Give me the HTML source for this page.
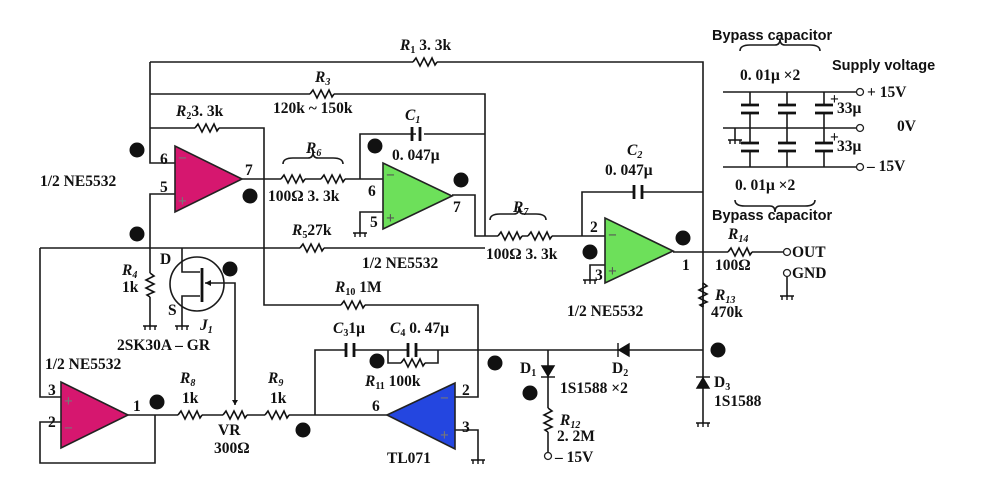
<!DOCTYPE html>
<html><head><meta charset="utf-8"><style>
html,body{margin:0;padding:0;background:#fff;width:981px;height:501px;overflow:hidden}
svg{display:block}
text{font-family:"Liberation Serif",serif;font-weight:bold;font-size:15.5px;fill:#111}
.s{font-family:"Liberation Sans",sans-serif;font-size:14.5px}
.i{font-style:italic}
</style></head><body>
<svg width="981" height="501" viewBox="0 0 981 501" xmlns="http://www.w3.org/2000/svg">
<defs>
<path id="rh" d="M-12 0 L-9 -4 L-5 4 L-1 -4 L3 4 L7 -4 L10 3 L12 0" fill="none" stroke="#111" stroke-width="1.6"/>
<path id="rv" d="M0 -12 L4 -9 L-4 -5 L4 -1 L-4 3 L4 7 L-3 10 L0 12" fill="none" stroke="#111" stroke-width="1.6"/>
<g id="gnd"><path d="M-7 0 H7 M-5 0 V4 M0 0 V4 M5 0 V4" stroke="#111" stroke-width="1.4"/></g>
</defs>
<g stroke="#1a1a1a" stroke-width="1.6" fill="none">
<path d="M150 62 H413 M437 62 H703 V423"/>
<path d="M150 62 V163 H175"/>
<path d="M150 94 H310 M334 94 H485 V236"/>
<path d="M150 128 H195 M219 128 H264 V305 H341 M365 305 H478 V397 H455"/>
<path d="M242 179 H264 M264 179 H281 M305 179 H321 M345 179 H383"/>
<path d="M360 179 V134 H416 M424 134 H485"/>
<path d="M383 212 H360 V233"/>
<path d="M452 195 H475 V236 H498 M522 236 H528 M552 236 H605"/>
<path d="M582 236 V192 H634 M642 192 H703"/>
<path d="M605 265 H590 V280"/>
<path d="M673 252 H728 M752 252 H783"/>
<path d="M787 276 V296"/>
<path d="M175 194 H150 V248"/>
<path d="M40 248 H300 M324 248 H485"/>
<path d="M150 248 V273 M150 297 V326"/>
<path d="M40 248 V397 H61"/>
<path d="M61 422 H40 V463 H155 V415"/>
<path d="M128 415 H178 M202 415 H223 M247 415 H265 M289 415 H387"/>
<path d="M315 415 V350 H346 M354 350 H408 M416 350 H703"/>
<path d="M388 350 V363 H401 M425 363 H438 V350"/>
<path d="M455 430 H478 V460"/>
<path d="M548 350 V408 M548 432 V452"/>
<path d="M703 283 V307"/>
<circle cx="197" cy="284" r="27"/>
<path d="M182 248 V272 H200 M182 326 V296 H200 M205 283 H235 V405"/>
<path d="M723 92 H856 M723 128 H856 M723 167 H856 M735 128 V140"/>
<path d="M750 92 V105 M750 113 V143 M750 151 V167 M787 92 V105 M787 113 V143 M787 151 V167 M824 92 V105 M824 113 V143 M824 151 V167"/>
<path d="M283 164 Q283 158 293 158 H308 Q313 158 313 152 Q313 158 318 158 H333 Q343 158 343 164"/>
<path d="M490 220 Q490 214 500 214 H514 Q519 214 519 208 Q519 214 524 214 H536 Q546 214 546 220"/>
<path d="M740 51 Q740 45 750 45 H775 Q780 45 780 39 Q780 45 785 45 H810 Q820 45 820 51"/>
<path d="M735 200 Q735 206 745 206 H770 Q775 206 775 212 Q775 206 780 206 H805 Q815 206 815 200"/>
</g>
<g stroke="#111" stroke-width="2.8">
<path d="M412 127 V141 M420 127 V141"/>
<path d="M634 185 V199 M642 185 V199"/>
<path d="M346 343 V357 M354 343 V357"/>
<path d="M408 343 V357 M416 343 V357"/>
<path d="M741 105 H759 M741 113 H759 M778 105 H796 M778 113 H796 M815 105 H833 M815 113 H833"/>
<path d="M741 143 H759 M741 151 H759 M778 143 H796 M778 151 H796 M815 143 H833 M815 151 H833"/>
<path d="M202 268 V302"/>
</g>
<use href="#rh" x="425" y="62"/><use href="#rh" x="322" y="94"/><use href="#rh" x="207" y="128"/>
<use href="#rh" x="293" y="179"/><use href="#rh" x="333" y="179"/><use href="#rh" x="312" y="248"/>
<use href="#rh" x="510" y="236"/><use href="#rh" x="540" y="236"/><use href="#rh" x="740" y="252"/>
<use href="#rh" x="353" y="305"/><use href="#rh" x="413" y="363"/>
<use href="#rh" x="190" y="415"/><use href="#rh" x="235" y="415"/><use href="#rh" x="277" y="415"/>
<use href="#rv" x="150" y="285"/><use href="#rv" x="703" y="295"/><use href="#rv" x="548" y="420"/>
<path d="M235 405 l-3 -5 h6z" fill="#111"/>
<path d="M205 283 l6 -3 v6z" fill="#111"/>
<use href="#gnd" x="150" y="326"/><use href="#gnd" x="182" y="326"/><use href="#gnd" x="360" y="233"/>
<use href="#gnd" x="590" y="280"/><use href="#gnd" x="787" y="296"/><use href="#gnd" x="478" y="460"/>
<use href="#gnd" x="703" y="423"/><use href="#gnd" x="735" y="140"/>
<g fill="#111" stroke="#111" stroke-width="1.4">
<path d="M619 350 l10 -6 v12z"/><path d="M618 343 V357"/>
<path d="M548 376 l-6 -10 h12z"/><path d="M541 377 H555"/>
<path d="M703 378 l-6 10 h12z"/><path d="M696 377 H710"/>
</g>
<g fill="#fff" stroke="#222" stroke-width="1.3">
<circle cx="787" cy="252" r="3.5"/><circle cx="787" cy="273" r="3.5"/><circle cx="548" cy="456" r="3.5"/>
<circle cx="860" cy="92" r="3.5"/><circle cx="860" cy="128" r="3.5"/><circle cx="860" cy="167" r="3.5"/>
</g>
<g stroke="#222" stroke-width="1.6">
<polygon points="175,146 175,212 242,179" fill="#d6176f"/>
<polygon points="383,163 383,229 452,196" fill="#6de05a"/>
<polygon points="605,218 605,283 673,251" fill="#6de05a"/>
<polygon points="61,382 61,448 128,415" fill="#d6176f"/>
<polygon points="387,415 455,383 455,449" fill="#2446e0"/>
</g>
<g font-size="14">
<text x="178" y="163" style="fill:#777">−</text><text x="178" y="206" style="fill:#777">+</text>
<text x="386" y="180" style="fill:#555">−</text><text x="386" y="223" style="fill:#555">+</text>
<text x="608" y="240" style="fill:#555">−</text><text x="608" y="276" style="fill:#555">+</text>
<text x="64" y="406" style="fill:#777">+</text><text x="64" y="433" style="fill:#777">−</text>
<text x="440" y="403" style="fill:#777">−</text><text x="440" y="440" style="fill:#777">+</text>
</g>
<g fill="#111">
<circle cx="137" cy="150" r="7.5"/><circle cx="137" cy="234" r="7.5"/><circle cx="250" cy="196" r="7.5"/>
<circle cx="375" cy="146" r="7.5"/><circle cx="461" cy="180" r="7.5"/><circle cx="683" cy="238" r="7.5"/>
<circle cx="590" cy="252" r="7.5"/><circle cx="230" cy="269" r="7.5"/><circle cx="157" cy="402" r="7.5"/>
<circle cx="303" cy="430" r="7.5"/><circle cx="377" cy="361" r="7.5"/><circle cx="495" cy="363" r="7.5"/>
<circle cx="530" cy="393" r="7.5"/><circle cx="718" cy="350" r="7.5"/>
</g>
<text x="400" y="50"><tspan class="i">R</tspan><tspan font-size="10" dy="3">1</tspan><tspan dy="-3"> 3. 3k</tspan></text>
<text x="315" y="82" class="i">R<tspan font-size="10" dy="3">3</tspan></text>
<text x="273" y="113">120k ~ 150k</text>
<text x="176" y="116"><tspan class="i">R</tspan><tspan font-size="10" dy="3">2</tspan><tspan dy="-3">3. 3k</tspan></text>
<text x="405" y="120" class="i">C<tspan font-size="10" dy="3">1</tspan></text>
<text x="392" y="160">0. 047μ</text>
<text x="306" y="153" class="i">R<tspan font-size="10" dy="3">6</tspan></text>
<text x="268" y="201">100Ω 3. 3k</text>
<text x="160" y="164">6</text><text x="160" y="192">5</text><text x="245" y="175">7</text>
<text x="368" y="196">6</text><text x="370" y="227">5</text><text x="453" y="212">7</text>
<text x="40" y="186">1/2 NE5532</text>
<text x="292" y="235"><tspan class="i">R</tspan><tspan font-size="10" dy="3">5</tspan><tspan dy="-3">27k</tspan></text>
<text x="362" y="268">1/2 NE5532</text>
<text x="513" y="212" class="i">R<tspan font-size="10" dy="3">7</tspan></text>
<text x="486" y="259">100Ω 3. 3k</text>
<text x="627" y="155" class="i">C<tspan font-size="10" dy="3">2</tspan></text>
<text x="605" y="175">0. 047μ</text>
<text x="590" y="232">2</text><text x="595" y="280">3</text><text x="682" y="270">1</text>
<text x="567" y="316">1/2 NE5532</text>
<text x="728" y="239" class="i">R<tspan font-size="10" dy="3">14</tspan></text>
<text x="715" y="270">100Ω</text>
<text x="792" y="257">OUT</text><text x="792" y="278">GND</text>
<text x="715" y="300" class="i">R<tspan font-size="10" dy="3">13</tspan></text>
<text x="711" y="317">470k</text>
<text x="714" y="387">D<tspan font-size="10" dy="3">3</tspan></text>
<text x="714" y="406">1S1588</text>
<text x="612" y="373">D<tspan font-size="10" dy="3">2</tspan></text>
<text x="520" y="373">D<tspan font-size="10" dy="3">1</tspan></text>
<text x="560" y="393">1S1588 ×2</text>
<text x="560" y="425" class="i">R<tspan font-size="10" dy="3">12</tspan></text>
<text x="557" y="441">2. 2M</text>
<text x="555" y="462">– 15V</text>
<text x="335" y="292"><tspan class="i">R</tspan><tspan font-size="10" dy="3">10</tspan><tspan dy="-3"> 1M</tspan></text>
<text x="333" y="333"><tspan class="i">C</tspan><tspan font-size="10" dy="3">3</tspan><tspan dy="-3">1μ</tspan></text>
<text x="390" y="333"><tspan class="i">C</tspan><tspan font-size="10" dy="3">4</tspan><tspan dy="-3"> 0. 47μ</tspan></text>
<text x="365" y="386"><tspan class="i">R</tspan><tspan font-size="10" dy="3">11</tspan><tspan dy="-3"> 100k</tspan></text>
<text x="462" y="395">2</text><text x="462" y="432">3</text><text x="372" y="411">6</text>
<text x="387" y="463">TL071</text>
<text x="160" y="264">D</text><text x="168" y="315">S</text>
<text x="200" y="330" class="i">J<tspan font-size="10" dy="3">1</tspan></text>
<text x="117" y="350">2SK30A – GR</text>
<text x="122" y="275" class="i">R<tspan font-size="10" dy="3">4</tspan></text>
<text x="122" y="292">1k</text>
<text x="45" y="369">1/2 NE5532</text>
<text x="48" y="395">3</text><text x="48" y="427">2</text><text x="133" y="411">1</text>
<text x="180" y="383" class="i">R<tspan font-size="10" dy="3">8</tspan></text>
<text x="182" y="403">1k</text>
<text x="268" y="383" class="i">R<tspan font-size="10" dy="3">9</tspan></text>
<text x="270" y="403">1k</text>
<text x="218" y="435">VR</text><text x="214" y="453">300Ω</text>
<text x="712" y="40" class="s">Bypass capacitor</text>
<text x="740" y="80">0. 01μ ×2</text>
<text x="832" y="70" class="s">Supply voltage</text>
<text x="867" y="97">+ 15V</text>
<text x="897" y="131">0V</text>
<text x="867" y="171">– 15V</text>
<text x="837" y="113" font-size="14">33μ</text>
<text x="837" y="151" font-size="14">33μ</text>
<text x="830" y="104" font-size="10">+</text><text x="830" y="142" font-size="10">+</text>
<text x="735" y="190">0. 01μ ×2</text>
<text x="712" y="220" class="s">Bypass capacitor</text>
</svg>
</body></html>
